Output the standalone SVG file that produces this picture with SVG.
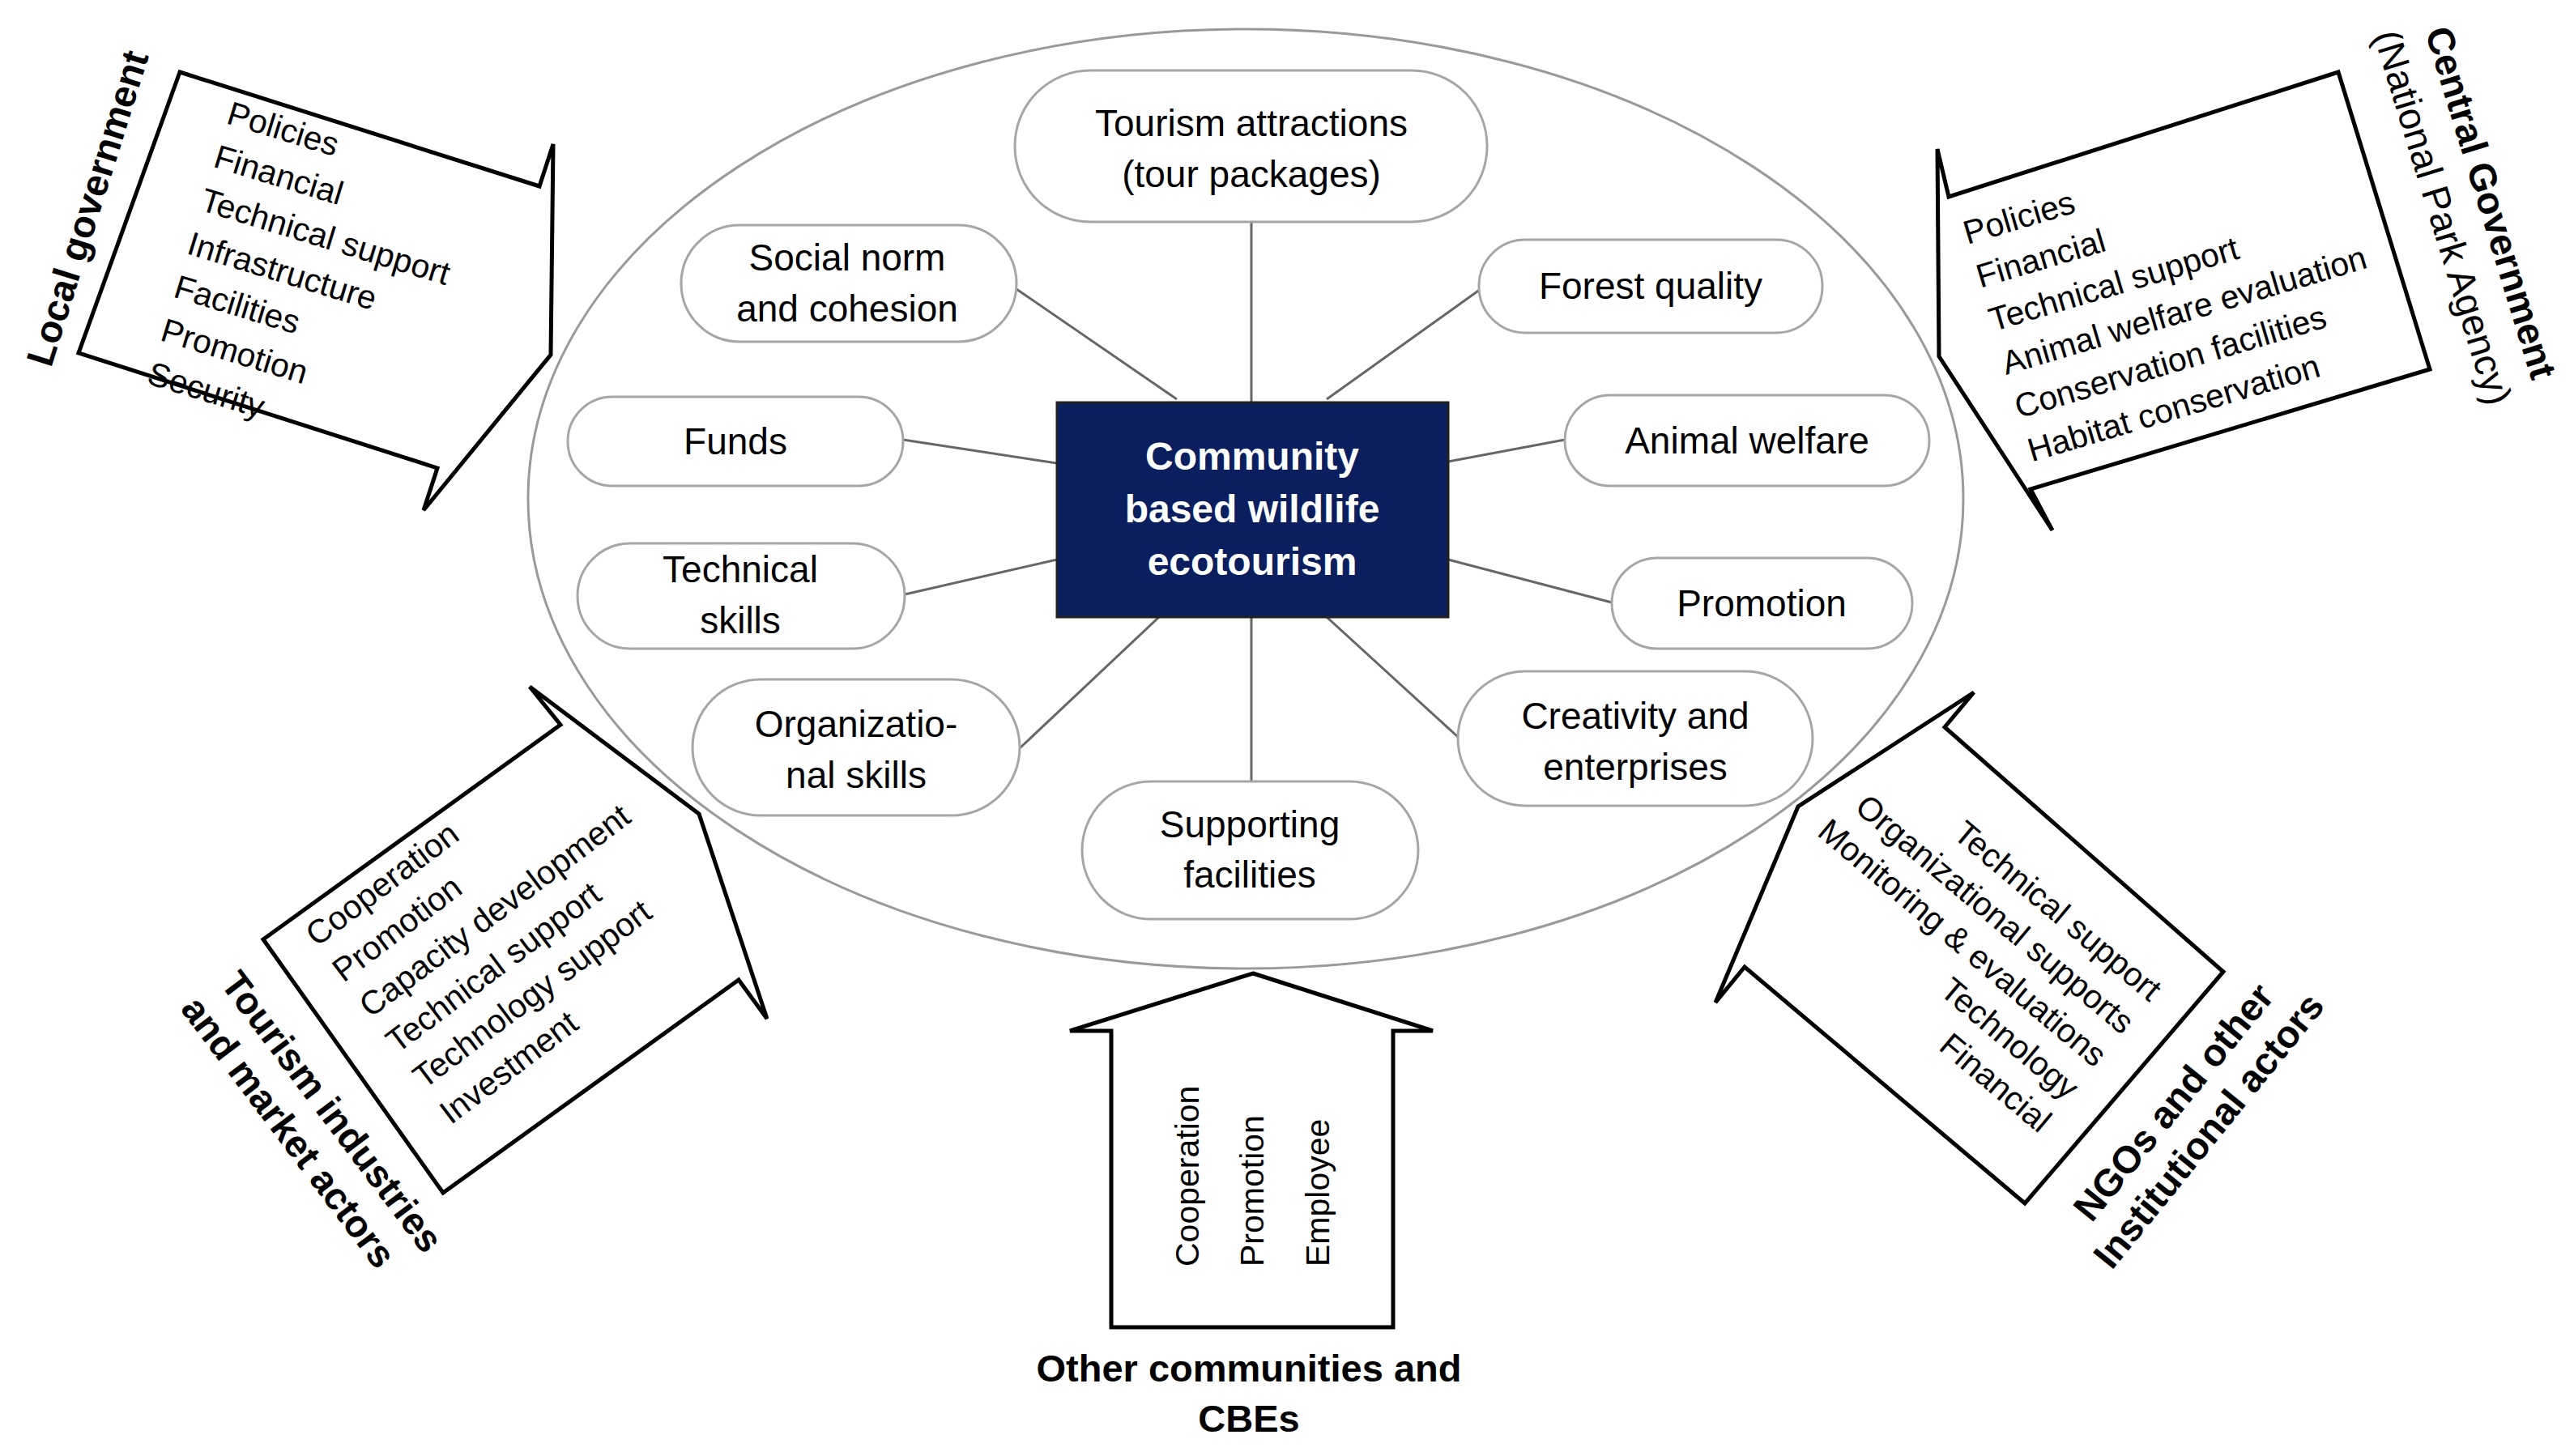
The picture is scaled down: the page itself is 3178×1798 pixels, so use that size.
<svg xmlns="http://www.w3.org/2000/svg" width="3178" height="1798" viewBox="0 0 3178 1798">
<style>
text{font-family:"Liberation Sans","Open Sans",Arial,sans-serif;fill:#000}
.pill{fill:#fff;stroke:#a6a6a6;stroke-width:3}
.pt{font-size:46px;text-anchor:middle}
.co{fill:#fff;stroke:#000;stroke-width:5;stroke-linejoin:miter}
.it{font-size:41px}
.lb{font-size:47px;font-weight:bold}
.conn line{stroke:#666;stroke-width:3}
</style>
<rect width="3178" height="1798" fill="#fff"/>
<ellipse id="boundary" cx="1538" cy="616" rx="886" ry="580" fill="none" stroke="#9a9a9a" stroke-width="3"/>
<g id="connectors" class="conn">
<line x1="1545" y1="274" x2="1545" y2="497"/>
<line x1="1255" y1="357" x2="1453" y2="493"/>
<line x1="1828" y1="357" x2="1638" y2="493"/>
<line x1="1115" y1="543" x2="1305" y2="572"/>
<line x1="1932" y1="543" x2="1788" y2="570"/>
<line x1="1117" y1="734" x2="1305" y2="691"/>
<line x1="1990" y1="744" x2="1788" y2="691"/>
<line x1="1259" y1="924" x2="1431" y2="762"/>
<line x1="1800" y1="910" x2="1638" y2="762"/>
<line x1="1545" y1="762" x2="1545" y2="965"/>
</g>
<g id="center">
<rect x="1305" y="497" width="483" height="265" fill="#0b1f5e" stroke="#222" stroke-width="3"/>
<text x="1546" y="580" font-size="48" font-weight="bold" text-anchor="middle" style="fill:#fff">Community</text>
<text x="1546" y="645" font-size="48" font-weight="bold" text-anchor="middle" style="fill:#fff">based wildlife</text>
<text x="1546" y="710" font-size="48" font-weight="bold" text-anchor="middle" style="fill:#fff">ecotourism</text>
</g>
<g id="n-tourism"><rect class="pill" x="1253" y="87" width="583" height="187" rx="93"/><text class="pt" x="1545" y="168">Tourism attractions</text><text class="pt" x="1545" y="231">(tour packages)</text></g>
<g id="n-social"><rect class="pill" x="841" y="278" width="414" height="144" rx="72"/><text class="pt" x="1046" y="334">Social norm</text><text class="pt" x="1046" y="397">and cohesion</text></g>
<g id="n-forest"><rect class="pill" x="1826" y="296" width="424" height="115" rx="57"/><text class="pt" x="2038" y="369">Forest quality</text></g>
<g id="n-funds"><rect class="pill" x="701" y="490" width="414" height="110" rx="55"/><text class="pt" x="908" y="561">Funds</text></g>
<g id="n-animal"><rect class="pill" x="1932" y="488" width="450" height="112" rx="56"/><text class="pt" x="2157" y="560">Animal welfare</text></g>
<g id="n-techskills"><rect class="pill" x="713" y="671" width="404" height="130" rx="65"/><text class="pt" x="914" y="719">Technical</text><text class="pt" x="914" y="782">skills</text></g>
<g id="n-promotion"><rect class="pill" x="1990" y="689" width="371" height="112" rx="56"/><text class="pt" x="2175" y="761">Promotion</text></g>
<g id="n-org"><rect class="pill" x="855" y="839" width="404" height="168" rx="84"/><text class="pt" x="1057" y="910">Organizatio-</text><text class="pt" x="1057" y="973">nal skills</text></g>
<g id="n-creativity"><rect class="pill" x="1800" y="829" width="438" height="166" rx="83"/><text class="pt" x="2019" y="900">Creativity and</text><text class="pt" x="2019" y="963">enterprises</text></g>
<g id="n-supporting"><rect class="pill" x="1336" y="965" width="415" height="170" rx="85"/><text class="pt" x="1543" y="1034">Supporting</text><text class="pt" x="1543" y="1096">facilities</text></g>

<g id="local-government">
<polygon class="co" points="222,89 666,230 683,178 680,438 523,630 540,578 97,436"/>
<g transform="translate(278,152) rotate(17)">
<text class="it" x="0" y="0">Policies</text>
<text class="it" x="0" y="56">Financial</text>
<text class="it" x="0" y="112">Technical support</text>
<text class="it" x="0" y="168">Infrastructure</text>
<text class="it" x="0" y="224">Facilities</text>
<text class="it" x="0" y="280">Promotion</text>
<text class="it" x="0" y="336">Security</text>
</g>
<text class="lb" transform="translate(63,455) rotate(-72.6)">Local government</text>
</g>

<g id="central-government">
<polygon class="co" points="2392,184 2406,243 2887,89 3000,456 2507,604 2534,655 2394,440"/>
<g transform="translate(2429,302) rotate(-16.5)">
<text class="it" x="0" y="0">Policies</text>
<text class="it" x="0" y="56">Financial</text>
<text class="it" x="0" y="112">Technical support</text>
<text class="it" x="0" y="168">Animal welfare evaluation</text>
<text class="it" x="0" y="224">Conservation facilities</text>
<text class="it" x="0" y="280">Habitat conservation</text>
</g>
<g transform="translate(3060,255) rotate(73)">
<text class="lb" x="0" y="0" text-anchor="middle">Central Government</text>
<text x="0" y="62" font-size="47" text-anchor="middle">(National Park Agency)</text>
</g>
</g>

<g id="tourism-industries">
<polygon class="co" points="654,848 863,1005 947,1258 912,1210 547,1473 325,1160 692,895"/>
<g transform="translate(391,1170) rotate(-37)">
<text class="it" x="0" y="0">Cooperation</text>
<text class="it" x="0" y="55">Promotion</text>
<text class="it" x="0" y="110">Capacity development</text>
<text class="it" x="0" y="165">Technical support</text>
<text class="it" x="0" y="220">Technology support</text>
<text class="it" x="0" y="275">Investment</text>
</g>
<g transform="translate(271,1215) rotate(53)">
<text class="lb" x="0" y="0">Tourism industries</text>
<text class="lb" x="-5" y="58">and market actors</text>
</g>
</g>

<g id="ngos">
<polygon class="co" points="2437,855 2401,898 2745,1200 2500,1486 2154,1194 2118,1238 2220,996"/>
<g transform="translate(2654,1238) rotate(40)" text-anchor="end">
<text class="it" x="0" y="0">Technical support</text>
<text class="it" x="0" y="53">Organizational supports</text>
<text class="it" x="0" y="106">Monitoring &amp; evaluations</text>
<text class="it" x="0" y="159">Technology</text>
<text class="it" x="0" y="212">Financial</text>
</g>
<g transform="translate(2696,1371) rotate(-51)">
<text class="lb" x="0" y="0" text-anchor="middle">NGOs and other</text>
<text class="lb" x="0" y="56" text-anchor="middle">Institutional actors</text>
</g>
</g>

<g id="other-communities">
<polygon class="co" points="1547,1202 1769,1273 1720,1273 1720,1639 1372,1639 1372,1273 1321,1273"/>
<text class="it" transform="translate(1480,1564) rotate(-90)">Cooperation</text>
<text class="it" transform="translate(1560,1564) rotate(-90)">Promotion</text>
<text class="it" transform="translate(1641,1564) rotate(-90)">Employee</text>
<text class="lb" x="1542" y="1706" text-anchor="middle">Other communities and</text>
<text class="lb" x="1542" y="1768" text-anchor="middle">CBEs</text>
</g>
</svg>
